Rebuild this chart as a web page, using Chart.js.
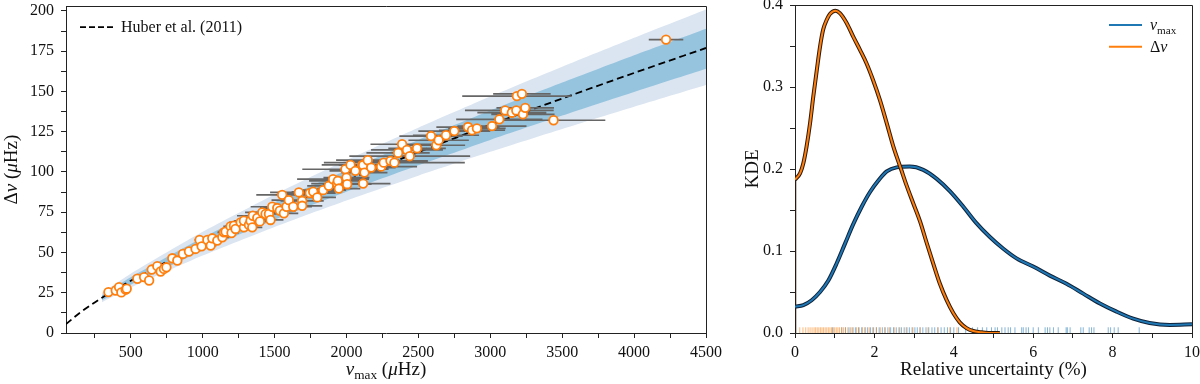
<!DOCTYPE html>
<html lang="en">
<head>
<meta charset="UTF-8">
<title>Seismic scaling</title>
<script src="https://cdn.jsdelivr.net/npm/chart.js"></script>
<style>
    body { margin: 0; background: #fff; width: 1200px; height: 384px; position: relative; overflow: hidden; }
    #leftBox { position: absolute; left: 0; top: 0; }
    #rightBox { position: absolute; left: 740px; top: 0; }
</style>
</head>
<body>
<div id="leftBox"><canvas id="relChart" width="730" height="384"></canvas></div>
<div id="rightBox"><canvas id="kdeChart" width="460" height="384"></canvas></div>
<script>
// ---- left panel: numax vs dnu ----
const numax = [345, 396, 419, 435, 465, 472, 546, 593, 628, 646, 685, 708, 731, 748, 789, 824, 863, 905, 951, 979,
    993, 1033, 1056, 1067, 1102, 1137, 1148, 1160, 1194, 1201, 1218, 1229, 1264, 1287, 1287, 1322, 1333, 1345, 1349, 1380,
    1398, 1415, 1438, 1461, 1472, 1484, 1519, 1537, 1553, 1565, 1583, 1599, 1630, 1669, 1692, 1692, 1745, 1769, 1797, 1838,
    1877, 1907, 1935, 1940, 1947, 1993, 2000, 2005, 2028, 2062, 2109, 2116, 2116, 2125, 2148, 2172, 2241, 2259, 2306, 2333,
    2359, 2387, 2421, 2440, 2491, 2588, 2625, 2641, 2692, 2750, 2845, 2873, 2907, 3012, 3063, 3104, 3150, 3181, 3185, 3220,
    3227, 3243, 3440, 4222];
const dnu = [25.4, 26.4, 28.5, 25.2, 26.9, 27.5, 33.7, 34.7, 32.6, 39.4, 41.5, 38.2, 39.8, 40.8, 46.4, 45.0, 49.1, 50.6, 52.2, 57.8,
    53.8, 57.8, 54.3, 58.8, 57.4, 59.4, 62.5, 62.9, 66.2, 62.1, 66.6, 64.6, 68.7, 65.6, 69.7, 67.1, 69.7, 65.6, 72.8, 71.4,
    69.3, 74.9, 73.9, 73.9, 70.2, 78.4, 77.6, 75.9, 85.8, 74.3, 78.4, 82.5, 78.4, 87.3, 82.1, 79.0, 86.9, 87.7, 84.2, 88.7,
    91.4, 95.5, 92.8, 94.5, 89.7, 101.7, 96.5, 92.4, 104.4, 100.7, 104.2, 92.8, 104.2, 99.6, 107.3, 102.7, 103.3, 105.8, 106.9, 105.8,
    111.8, 117.2, 113.7, 109.8, 114.7, 122.3, 116.6, 119.7, 122.8, 125.4, 127.9, 125.9, 127.1, 128.5, 132.7, 138.2, 136.8, 138.2, 147.1, 148.5,
    135.8, 139.8, 132.1, 182.2];
const numaxErr = [12, 12, 15, 12, 15, 12, 15, 18, 20, 20, 20, 20, 20, 25, 25, 25, 30, 30, 30, 35,
    30, 35, 40, 40, 40, 45, 45, 50, 50, 50, 60, 55, 80, 60, 70, 60, 90, 70, 110, 80,
    90, 120, 100, 100, 90, 150, 120, 110, 180, 100, 150, 120, 130, 200, 150, 140, 180, 150, 130, 160,
    150, 250, 180, 200, 150, 300, 160, 170, 200, 180, 150, 190, 170, 160, 220, 170, 250, 230, 260, 490,
    220, 220, 250, 420, 200, 220, 200, 210, 230, 250, 220, 230, 200, 240, 300, 280, 240, 260, 380, 200,
    220, 200, 360, 120];

// Huber et al. (2011) relation and its bands
const huberNu = [50, 150, 300, 500, 1000, 1500, 2000, 2500, 3000, 3500, 4000, 4500];
const huberDnu = [5.5, 12.8, 21.9, 32.4, 55.3, 75.8, 94.6, 112.3, 129.3, 145.6, 161.5, 177.0];
const bandNu = [300, 500, 1000, 1500, 2000, 2500, 3000, 3500, 4000, 4500];
const bandLightLo = [19.1, 28.2, 48.1, 65.9, 82.3, 97.7, 112.5, 126.7, 140.5, 154.0];
const bandDarkLo = [20.3, 30.0, 51.3, 70.3, 87.7, 104.1, 119.9, 135.0, 149.7, 164.1];
const bandDarkHi = [23.4, 34.6, 59.1, 81.0, 101.0, 119.9, 138.1, 155.5, 172.5, 189.0];
const bandLightHi = [24.9, 36.8, 62.8, 86.0, 107.4, 127.5, 146.8, 165.3, 183.3, 200.9];

// tick positions (major ones get a label)
const leftXTicks = [250, 500, 750, 1000, 1250, 1500, 1750, 2000, 2250, 2500, 2750, 3000, 3250, 3500, 3750, 4000, 4250, 4500];
const leftXLabels = [500, 1000, 1500, 2000, 2500, 3000, 3500, 4000, 4500];
const leftYTicks = [0, 12.5, 25, 37.5, 50, 62.5, 75, 87.5, 100, 112.5, 125, 137.5, 150, 162.5, 175, 187.5, 200];
const leftYLabels = [0, 25, 50, 75, 100, 125, 150, 175, 200];

// ---- right panel: KDE of relative uncertainties ----
const kdeNumaxX = [0, 0.21, 0.42, 0.63, 0.84, 1.05, 1.26, 1.47, 1.68, 1.89, 2.1, 2.31, 2.56, 2.89, 3.23, 3.57, 3.9, 4.24,
    4.57, 4.91, 5.24, 5.58, 6.0, 6.42, 6.84, 7.26, 7.68, 8.1, 8.52, 8.93, 9.44, 10];
const kdeNumaxY = [0.032, 0.034, 0.04, 0.05, 0.064, 0.085, 0.109, 0.133, 0.154, 0.172, 0.186, 0.197, 0.202, 0.203, 0.199, 0.188, 0.173, 0.154,
    0.134, 0.117, 0.103, 0.091, 0.081, 0.070, 0.060, 0.048, 0.036, 0.026, 0.0175, 0.0122, 0.0098, 0.0106];
const kdeDnuX = [0, 0.13, 0.21, 0.29, 0.38, 0.46, 0.55, 0.63, 0.71, 0.8, 0.88, 1.02, 1.13, 1.3, 1.47, 1.64, 1.8, 1.97, 2.14,
    2.31, 2.48, 2.67, 2.81, 2.98, 3.15, 3.31, 3.48, 3.65, 3.82, 3.99, 4.15, 4.32, 4.49, 4.66, 4.87, 5.16];
const kdeDnuY = [0.187, 0.195, 0.207, 0.227, 0.256, 0.288, 0.321, 0.349, 0.37, 0.382, 0.389, 0.393, 0.39, 0.378, 0.361, 0.345, 0.329, 0.308, 0.284,
    0.256, 0.227, 0.2, 0.18, 0.158, 0.136, 0.111, 0.085, 0.06, 0.04, 0.024, 0.013, 0.006, 0.0024, 0.001, 0, 0];
const rugDnu = [0.12, 0.2, 0.27, 0.33, 0.38, 0.43, 0.48, 0.52, 0.56, 0.6, 0.64, 0.68, 0.72, 0.76, 0.8, 0.84, 0.88, 0.92, 0.96, 1.0,
    1.04, 1.08, 1.12, 1.17, 1.22, 1.27, 1.33, 1.4, 1.47, 1.55, 1.62, 1.7, 1.78, 1.87, 1.95, 2.05, 2.15, 2.26, 2.38, 2.5,
    2.64, 2.8, 2.97, 3.15, 3.35, 3.6, 3.9, 4.08];
const rugNumax = [0.95, 1.18, 1.27, 1.36, 1.44, 1.52, 1.6, 1.68, 1.76, 1.83, 1.9, 1.98, 2.05, 2.12, 2.2, 2.27, 2.34, 2.41, 2.48, 2.55,
    2.62, 2.68, 2.75, 2.82, 2.88, 2.95, 3.02, 3.08, 3.15, 3.22, 3.3, 3.37, 3.45, 3.52, 3.6, 3.68, 3.76, 3.84, 3.92, 4.0,
    4.12, 4.3, 4.47, 4.6, 4.72, 4.83, 4.95, 5.04, 5.1, 5.21, 5.29, 5.37, 5.43, 5.54, 5.71, 5.75, 5.82, 5.88, 6.0, 6.13,
    6.3, 6.36, 6.42, 6.51, 6.63, 6.83, 6.86, 6.93, 7.2, 7.26, 7.41, 7.47, 7.53, 7.89, 7.95, 8.04, 8.14, 8.67];

const rightXLabels = [0, 2, 4, 6, 8, 10];
const rightYLabels = ['0.0', '0.1', '0.2', '0.3', '0.4'];

const FONT = 'Liberation Serif';
const INK = '#111';
const BLUE = '#1f77b4';
const ORANGE = '#ff7f0e';

// text with italic / subscript pieces, drawn with canvas text
function richText(ctx, parts, x, y, size, align, rot) {
    ctx.save();
    ctx.translate(x, y);
    if (rot) ctx.rotate(rot);
    const fonts = parts.map(p => (p.it ? 'italic ' : '') + (p.sub ? size * 0.7 : size) + 'px "' + FONT + '"');
    let w = 0;
    parts.forEach((p, i) => { ctx.font = fonts[i]; w += ctx.measureText(p.t).width; });
    let cx = align === 'center' ? -w / 2 : 0;
    ctx.textAlign = 'left';
    ctx.textBaseline = 'alphabetic';
    ctx.fillStyle = INK;
    parts.forEach((p, i) => {
        ctx.font = fonts[i];
        ctx.fillText(p.t, cx, p.sub ? size * 0.22 : 0);
        cx += ctx.measureText(p.t).width;
    });
    ctx.restore();
}

// frame, axis titles and legend inside the plot
const decor = {
    id: 'decor',
    afterDraw(chart, args, o) {
        const a = chart.chartArea, ctx = chart.ctx;
        ctx.save();
        ctx.strokeStyle = '#222';
        ctx.lineWidth = 1;
        ctx.beginPath();
        ctx.moveTo(Math.round(a.left), Math.round(a.top) + 0.5);
        ctx.lineTo(Math.round(a.right) + 0.5, Math.round(a.top) + 0.5);
        ctx.lineTo(Math.round(a.right) + 0.5, Math.round(a.bottom));
        ctx.stroke();
        ctx.restore();

        richText(ctx, o.xTitle, (a.left + a.right) / 2, a.bottom + o.xTitleDy, o.titleSize, 'center');
        richText(ctx, o.yTitle, a.left - o.yTitleDx, (a.top + a.bottom) / 2, o.titleSize, 'center', -Math.PI / 2);

        const lx = o.legendRight ? a.right - o.legendX : a.left + o.legendX;
        o.legend.forEach((it, i) => {
            const y = a.top + o.legendY + i * o.legendRow;
            ctx.save();
            ctx.strokeStyle = it.color;
            ctx.lineWidth = it.width;
            ctx.setLineDash(it.dash || []);
            ctx.beginPath();
            ctx.moveTo(lx, y);
            ctx.lineTo(lx + o.legendLen, y);
            ctx.stroke();
            ctx.restore();
            richText(ctx, it.parts, lx + o.legendLen + 8, y + 5, 16, 'left');
        });
    }
};

function fixBox(w, h) {
    return function (scale) {
        if (w !== undefined) scale.width = w;
        if (h !== undefined) scale.height = h;
        scale.paddingTop = 0; scale.paddingBottom = 0;
        scale.paddingLeft = 0; scale.paddingRight = 0;
    };
}

function axisStyle() {
    return {
        grid: { display: true, drawOnChartArea: false, drawTicks: true, tickLength: 5, tickColor: '#222', tickWidth: 1 },
        border: { display: true, color: '#222', width: 1 },
    };
}

const pts = numax.map((v, i) => ({ x: v, y: dnu[i] }));
const errSegs = [];
numax.forEach((v, i) => {
    errSegs.push({ x: v - numaxErr[i], y: dnu[i] }, { x: v + numaxErr[i], y: dnu[i] }, { x: null, y: null });
});
const xy = (xs, ys) => xs.map((v, i) => ({ x: v, y: ys[i] }));

new Chart(document.getElementById('relChart'), {
    type: 'scatter',
    data: {
        datasets: [
            { data: xy(bandNu, bandLightHi), showLine: true, fill: '+1', backgroundColor: '#dbe5f1', borderColor: 'transparent', borderWidth: 0, pointRadius: 0, order: 8, tension: 0.2 },
            { data: xy(bandNu, bandLightLo), showLine: true, fill: false, borderColor: 'transparent', borderWidth: 0, pointRadius: 0, order: 8, tension: 0.2 },
            { data: xy(bandNu, bandDarkHi), showLine: true, fill: '+1', backgroundColor: '#96c4df', borderColor: 'transparent', borderWidth: 0, pointRadius: 0, order: 6, tension: 0.2 },
            { data: xy(bandNu, bandDarkLo), showLine: true, fill: false, borderColor: 'transparent', borderWidth: 0, pointRadius: 0, order: 6, tension: 0.2 },
            { data: xy(huberNu, huberDnu), showLine: true, fill: false, borderColor: '#000', borderWidth: 1.8, borderDash: [7, 4], pointRadius: 0, order: 4, cubicInterpolationMode: 'monotone' },
            { data: errSegs, showLine: true, spanGaps: false, fill: false, borderColor: '#666', borderWidth: 1.7, pointRadius: 0, order: 2 },
            { data: pts, pointRadius: 4.3, pointBorderWidth: 1.8, pointBackgroundColor: '#fff', pointBorderColor: ORANGE, order: 0 }
        ]
    },
    options: {
        responsive: false,
        animation: false,
        events: [],
        layout: { padding: { top: 5, right: 24, left: 0, bottom: 0 } },
        scales: {
            x: Object.assign(axisStyle(), {
                type: 'linear', min: 50, max: 4500,
                ticks: { autoSkip: false, maxRotation: 0, padding: 5, color: INK, font: { family: FONT, size: 16 },
                    callback: v => leftXLabels.includes(v) ? String(v) : '' },
                afterBuildTicks: s => { s.ticks = leftXTicks.map(v => ({ value: v })); },
                afterFit: fixBox(undefined, 51)
            }),
            y: Object.assign(axisStyle(), {
                type: 'linear', min: 0, max: 203,
                ticks: { autoSkip: false, padding: 7, color: INK, font: { family: FONT, size: 16 },
                    callback: v => leftYLabels.includes(v) ? String(v) : '' },
                afterBuildTicks: s => { s.ticks = leftYTicks.map(v => ({ value: v })); },
                afterFit: fixBox(66, undefined)
            })
        },
        plugins: {
            legend: { display: false },
            tooltip: { enabled: false },
            decor: {
                titleSize: 19,
                xTitle: [{ t: 'ν', it: true }, { t: 'max', sub: true }, { t: ' (' }, { t: 'μ', it: true }, { t: 'Hz)' }],
                yTitle: [{ t: 'Δ' }, { t: 'ν', it: true }, { t: ' (' }, { t: 'μ', it: true }, { t: 'Hz)' }],
                xTitleDy: 42, yTitleDx: 49,
                legendRight: false, legendX: 14, legendY: 21, legendRow: 22, legendLen: 33,
                legend: [{ parts: [{ t: 'Huber et al. (2011)' }], color: '#000', width: 1.8, dash: [6, 3] }]
            }
        }
    },
    plugins: [decor]
});

const rug = (xs) => xs.map(v => ({ x: v, y: 0.0033 }));

new Chart(document.getElementById('kdeChart'), {
    type: 'scatter',
    data: {
        datasets: [
            { data: rug(rugNumax), pointStyle: 'line', rotation: 90, pointRadius: 3, pointBorderWidth: 1, pointBorderColor: 'rgba(31,119,180,0.55)', order: 9 },
            { data: rug(rugDnu), pointStyle: 'line', rotation: 90, pointRadius: 3, pointBorderWidth: 1, pointBorderColor: 'rgba(255,127,14,0.55)', order: 8 },
            { data: [{ x: 0, y: 0 }, { x: 0, y: kdeDnuY[0] }], showLine: true, borderColor: '#2a1a10', borderWidth: 2.5, pointRadius: 0, order: 7 },
            { data: xy(kdeNumaxX, kdeNumaxY), showLine: true, borderColor: '#10233a', borderWidth: 4, pointRadius: 0, order: 6, cubicInterpolationMode: 'monotone' },
            { data: xy(kdeNumaxX, kdeNumaxY), showLine: true, borderColor: BLUE, borderWidth: 2, pointRadius: 0, order: 5, cubicInterpolationMode: 'monotone' },
            { data: xy(kdeDnuX, kdeDnuY), showLine: true, borderColor: '#2e1a0c', borderWidth: 4, pointRadius: 0, order: 4, cubicInterpolationMode: 'monotone' },
            { data: xy(kdeDnuX, kdeDnuY), showLine: true, borderColor: ORANGE, borderWidth: 2, pointRadius: 0, order: 3, cubicInterpolationMode: 'monotone' }
        ]
    },
    options: {
        responsive: false,
        animation: false,
        events: [],
        layout: { padding: { top: 5, right: 8, left: 0, bottom: 0 } },
        scales: {
            x: Object.assign(axisStyle(), {
                type: 'linear', min: 0, max: 10,
                ticks: { stepSize: 1, autoSkip: false, maxRotation: 0, padding: 5, color: INK, font: { family: FONT, size: 16 },
                    callback: v => rightXLabels.includes(v) ? String(v) : '' },
                afterFit: fixBox(undefined, 51)
            }),
            y: Object.assign(axisStyle(), {
                type: 'linear', min: 0, max: 0.4,
                ticks: { stepSize: 0.05, autoSkip: false, padding: 7, color: INK, font: { family: FONT, size: 16 },
                    callback: v => { const s = v.toFixed(1); return Math.abs(v * 10 - Math.round(v * 10)) < 1e-6 && rightYLabels.includes(s) ? s : ''; } },
                afterFit: fixBox(55, undefined)
            })
        },
        plugins: {
            legend: { display: false },
            tooltip: { enabled: false },
            decor: {
                titleSize: 19,
                xTitle: [{ t: 'Relative uncertainty (%)' }],
                yTitle: [{ t: 'KDE' }],
                xTitleDy: 42, yTitleDx: 37,
                legendRight: true, legendX: 83, legendY: 20, legendRow: 21.7, legendLen: 33,
                legend: [
                    { parts: [{ t: 'ν', it: true }, { t: 'max', sub: true }], color: BLUE, width: 2 },
                    { parts: [{ t: 'Δ' }, { t: 'ν', it: true }], color: ORANGE, width: 2 }
                ]
            }
        }
    },
    plugins: [decor]
});
</script>
</body>
</html>
